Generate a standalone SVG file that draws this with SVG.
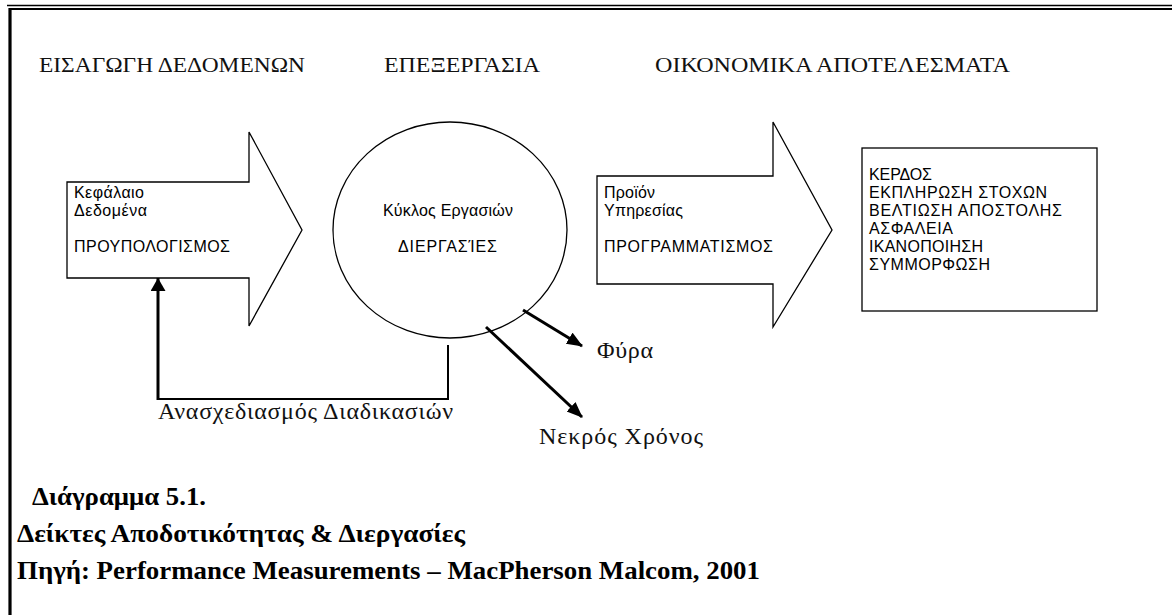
<svg xmlns="http://www.w3.org/2000/svg" width="1172" height="615" viewBox="0 0 1172 615">
<style>
.head{font-family:"Liberation Serif","Times New Roman",serif;font-size:22px;fill:#111}
.sans{font-family:"Liberation Sans",Arial,sans-serif;font-size:16px;fill:#000}
.lab{font-family:"Liberation Serif","Times New Roman",serif;font-size:24px;fill:#111}
.cap{font-family:"Liberation Serif","Times New Roman",serif;font-size:25px;font-weight:bold;fill:#000}
.shape{fill:#fff;stroke:#000;stroke-width:1.3}
.conn{fill:none;stroke:#000}
</style>
<defs>
<marker id="ah" markerUnits="userSpaceOnUse" markerWidth="18" markerHeight="14" refX="15" refY="6.5" orient="auto">
<path d="M0,0 L16,6.5 L0,13 z" fill="#000"/>
</marker>
<marker id="ahUp" markerUnits="userSpaceOnUse" markerWidth="16" markerHeight="16" refX="13" refY="7.5" orient="auto">
<path d="M0,0 L13,7.5 L0,15 z" fill="#000"/>
</marker>
</defs>
<rect x="0" y="0" width="1172" height="615" fill="#fff"/>
<g id="frame">
<line x1="7" y1="5.5" x2="1172" y2="5.5" stroke="#000" stroke-width="1.6"/>
<line x1="9" y1="9" x2="1172" y2="9" stroke="#000" stroke-width="2"/>
<line x1="10" y1="8" x2="10" y2="615" stroke="#000" stroke-width="3.2"/>
</g>
<g id="headings">
<text class="head" x="39" y="72" textLength="266" lengthAdjust="spacingAndGlyphs">ΕΙΣΑΓΩΓΗ ΔΕΔΟΜΕΝΩΝ</text>
<text class="head" x="384" y="72" textLength="156" lengthAdjust="spacingAndGlyphs">ΕΠΕΞΕΡΓΑΣΙΑ</text>
<text class="head" x="655" y="72" textLength="355" lengthAdjust="spacingAndGlyphs">ΟΙΚΟΝΟΜΙΚΑ ΑΠΟΤΕΛΕΣΜΑΤΑ</text>
</g>
<g id="input">
<polygon class="shape" points="67,182 249,182 249,132 302,230 249,326 249,278 67,278"/>
<text class="sans" x="74" y="198" textLength="70" lengthAdjust="spacing">Κεφάλαιο</text>
<text class="sans" x="74" y="216" textLength="73" lengthAdjust="spacing">Δεδομένα</text>
<text class="sans" x="74" y="252" textLength="156" lengthAdjust="spacing">ΠΡΟΥΠΟΛΟΓΙΣΜΟΣ</text>
</g>
<g id="process">
<ellipse class="shape" cx="450" cy="230" rx="117" ry="108"/>
<text class="sans" x="383" y="216" textLength="130" lengthAdjust="spacing">Κύκλος Εργασιών</text>
<text class="sans" x="398" y="252" textLength="99" lengthAdjust="spacing">ΔΙΕΡΓΑΣΊΕΣ</text>
</g>
<g id="output">
<polygon class="shape" points="597,176 773,176 773,122 832,230 773,327 773,284 597,284"/>
<text class="sans" x="604" y="198" textLength="51" lengthAdjust="spacing">Προϊόν</text>
<text class="sans" x="604" y="216" textLength="79" lengthAdjust="spacing">Υπηρεσίας</text>
<text class="sans" x="604" y="252" textLength="169" lengthAdjust="spacing">ΠΡΟΓΡΑΜΜΑΤΙΣΜΟΣ</text>
</g>
<g id="results">
<rect class="shape" x="862" y="148" width="235" height="163"/>
<text class="sans" x="869" y="180" textLength="63" lengthAdjust="spacing">ΚΕΡΔΟΣ</text>
<text class="sans" x="869" y="198" textLength="178" lengthAdjust="spacing">ΕΚΠΛΗΡΩΣΗ ΣΤΟΧΩΝ</text>
<text class="sans" x="869" y="216" textLength="193" lengthAdjust="spacing">ΒΕΛΤΙΩΣΗ ΑΠΟΣΤΟΛΗΣ</text>
<text class="sans" x="869" y="234" textLength="84" lengthAdjust="spacing">ΑΣΦΑΛΕΙΑ</text>
<text class="sans" x="869" y="252" textLength="114" lengthAdjust="spacing">ΙΚΑΝΟΠΟΙΗΣΗ</text>
<text class="sans" x="869" y="270" textLength="121" lengthAdjust="spacing">ΣΥΜΜΟΡΦΩΣΗ</text>
</g>
<g id="connectors">
<polyline class="conn" stroke-width="2" points="448,345 448,399 158,399"/>
<line class="conn" stroke-width="3" x1="158" y1="400" x2="158" y2="278" marker-end="url(#ahUp)"/>
<line class="conn" stroke-width="3" x1="523" y1="310" x2="582" y2="346" marker-end="url(#ah)"/>
<line class="conn" stroke-width="3" x1="486" y1="327" x2="582" y2="417" marker-end="url(#ah)"/>
</g>
<g id="labels">
<text class="lab" x="158" y="419" textLength="295" lengthAdjust="spacing">Ανασχεδιασμός Διαδικασιών</text>
<text class="lab" x="597" y="358" textLength="56" lengthAdjust="spacing">Φύρα</text>
<text class="lab" x="539" y="444" textLength="164" lengthAdjust="spacing">Νεκρός Χρόνος</text>
</g>
<g id="caption">
<text class="cap" x="32" y="505" textLength="174" lengthAdjust="spacingAndGlyphs">Διάγραμμα 5.1.</text>
<text class="cap" x="17" y="542" textLength="448" lengthAdjust="spacingAndGlyphs">Δείκτες Αποδοτικότητας &amp; Διεργασίες</text>
<text class="cap" x="17" y="579" textLength="743" lengthAdjust="spacingAndGlyphs">Πηγή: Performance Measurements – MacPherson Malcom, 2001</text>
</g>
</svg>
